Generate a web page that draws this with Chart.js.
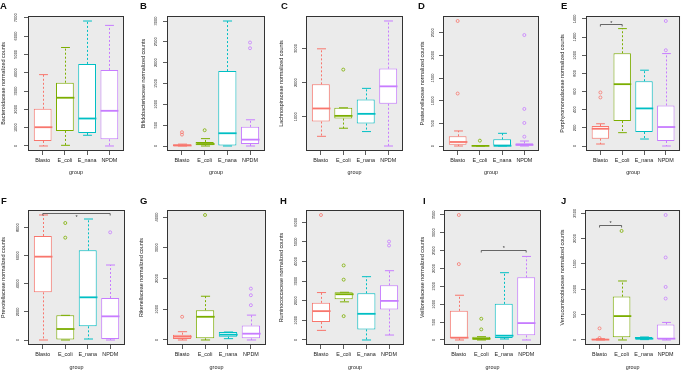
<!DOCTYPE html>
<html>
<head>
<meta charset="utf-8">
<script src="https://cdn.jsdelivr.net/npm/chart.js@4.4.1/dist/chart.umd.min.js"></script>
<style>
  body { margin: 0; background: #fff; }
  #fig { position: relative; width: 685px; height: 371px; font-family: "Liberation Sans", Arial, sans-serif; }
  #fig canvas { position: absolute; }
  .tag { position: absolute; font-weight: bold; font-size: 9.5px; line-height: 10px; color: #111; }
</style>
</head>
<body>
<div id="fig"></div>
<script>
const groups = ['Blasto', 'E_coli', 'E_nana', 'NPDM']

// one row per group: [lower whisker, Q1, median, Q3, upper whisker]
// outliers: [group number, value]
const titleA = 'Bacteroidaceae normalized counts'
const statsA = [[0, 274, 1024, 2030, 3894], [37, 823, 2633, 3455, 5375], [585, 713, 1500, 4479, 6819], [0, 366, 1920, 4150, 6581]]
const outA = []
const ticksA = [0, 1000, 2000, 3000, 4000, 5000, 6000, 7000]

const titleB = 'Bifidobacteriaceae normalized counts'
const statsB = [[0, 2, 12, 40, 45], [0, 16, 48, 97, 177], [0, 0, 306, 1798, 3000], [0, 48, 153, 460, 629]]
const outB = [[1, 330], [1, 274], [2, 379], [4, 2484], [4, 2347]]
const ticksB = [0, 500, 1000, 1500, 2000, 2500, 3000]

const titleC = 'Lachnospiraceae normalized counts'
const statsC = [[431, 863, 1245, 1951, 2990], [667, 951, 1029, 1265, 1265], [569, 804, 1088, 1510, 1833], [147, 1382, 1892, 2412, 3804]]
const outC = [[2, 2382]]
const ticksC = [1000, 2000, 3000]

const titleD = 'Pasteurellaceae normalized counts'
const statsD = [[0, 30, 89, 214, 332], [0, 0, 3, 8, 8], [0, 0, 5, 147, 280], [0, 0, 25, 59, 110]]
const outD = [[1, 2758], [1, 1158], [2, 118], [4, 2448], [4, 818], [4, 509], [4, 206]]
const ticksD = [0, 500, 1000, 1500, 2000, 2500]

const titleE = 'Porphyromonadaceae normalized counts'
const statsE = [[22, 81, 190, 220, 245], [147, 275, 681, 1022, 1293], [77, 154, 414, 714, 835], [0, 55, 209, 447, 1018]]
const outE = [[1, 590], [1, 535], [4, 1377], [4, 1055]]
const ticksE = [0, 200, 400, 600, 800, 1000, 1200, 1400]
const sigE = [1, 2, 1341, 1.5, 1370]

const titleF = 'Prevotellaceae normalized counts'
const statsF = [[0, 3395, 5935, 7407, 8902], [0, 0, 783, 1757, 1757], [71, 973, 3039, 6386, 8617], [0, 71, 1685, 2991, 5341]]
const outF = [[2, 8332], [2, 7288], [4, 7668]]
const ticksF = [0, 2000, 4000, 6000, 8000]
const sigF = [1, 4, 9021, 2.5, 8831]

const titleG = 'Rikenellaceae normalized counts'
const statsG = [[0, 32, 108, 173, 270], [0, 54, 755, 970, 1423], [43, 108, 173, 259, 259], [0, 54, 205, 474, 809]]
const outG = [[1, 755], [2, 4065], [4, 1671], [4, 1456], [4, 1132]]
const ticksG = [0, 1000, 2000, 3000, 4000]

const titleH = 'Ruminococcaceae normalized counts'
const statsH = [[490, 912, 1470, 1892, 2416], [1943, 2078, 2331, 2432, 2432], [0, 540, 1334, 2382, 3226], [253, 1554, 1993, 2787, 3530]]
const outH = [[1, 6368], [2, 3800], [2, 3074], [2, 1216], [4, 5017], [4, 4814]]
const ticksH = [0, 1000, 2000, 3000, 4000, 5000, 6000]

const titleI = 'Veillonellaceae normalized counts'
const statsI = [[0, 46, 65, 816, 1252], [0, 9, 37, 93, 93], [28, 56, 121, 1011, 1883], [0, 130, 473, 1753, 2338]]
const outI = [[1, 3497], [1, 2124], [2, 594], [2, 297]]
const ticksI = [0, 500, 1000, 1500, 2000, 2500, 3000, 3500]
const sigI = [2, 4, 2505, 3, 2588]

const titleJ = 'Verrucomicrobiaceae normalized counts'
const statsJ = [[0, 0, 7, 26, 26], [0, 52, 471, 856, 1163], [7, 7, 26, 59, 59], [0, 20, 26, 307, 346]]
const outJ = [[1, 229], [1, 39], [2, 2150], [4, 2464], [4, 1627], [4, 1046], [4, 817]]
const ticksJ = [0, 500, 1000, 1500, 2000, 2500]
const sigJ = [1, 2, 2268, 1.5, 2320]

const colors = ['#F8766D', '#7CAE00', '#00BFC4', '#C77CFF']
const family = 'Liberation Sans'
const ink = '#222'

// canvas rows: top, height, plot top, plot bottom (inside canvas), x title padding
const rows = [
    { top: 0, h: 185, pt: 16, pb: 151, gp: 8.8, tagY: 1 },
    { top: 185, h: 186, pt: 25, pb: 160, gp: 0, tagY: 196 },
]

const panels = [
    { tag: 'A', title: titleA, stats: statsA, out: outA, ticks: ticksA, ylim: [-273, 7093], sig: null, x: 0, row: 0, l: 28, r: 124, tx: 3.8, tp: 3.5, tagX: 0 },
    { tag: 'B', title: titleB, stats: statsB, out: outB, ticks: ticksB, ylim: [-120, 3120], sig: null, x: 137, row: 0, l: 30, r: 128, tx: 6.8, tp: 2.5, tagX: 140 },
    { tag: 'C', title: titleC, stats: statsC, out: outC, ticks: ticksC, ylim: [1, 3950], sig: null, x: 274, row: 0, l: 32, r: 129, tx: 7.8, tp: 1.5, tagX: 281 },
    { tag: 'D', title: titleD, stats: statsD, out: outD, ticks: ticksD, ylim: [-110, 2868], sig: null, x: 411, row: 0, l: 32, r: 128, tx: 12, tp: 1.5, tagX: 418 },
    { tag: 'E', title: titleE, stats: statsE, out: outE, ticks: ticksE, ylim: [-55, 1432], sig: sigE, x: 548, row: 0, l: 38, r: 133, tx: 14.7, tp: 2.8, tagX: 561 },
    { tag: 'F', title: titleF, stats: statsF, out: outF, ticks: ticksF, ylim: [-356, 9258], sig: sigF, x: 0, row: 1, l: 28, r: 125, tx: 3.4, tp: 1.3, tagX: 1 },
    { tag: 'G', title: titleG, stats: statsG, out: outG, ticks: ticksG, ylim: [-163, 4228], sig: null, x: 137, row: 1, l: 30, r: 129, tx: 4.7, tp: 1.5, tagX: 140 },
    { tag: 'H', title: titleH, stats: statsH, out: outH, ticks: ticksH, ylim: [-255, 6623], sig: null, x: 274, row: 1, l: 32, r: 130, tx: 8, tp: 1.8, tagX: 280 },
    { tag: 'I', title: titleI, stats: statsI, out: outI, ticks: ticksI, ylim: [-140, 3637], sig: sigI, x: 411, row: 1, l: 33, r: 130, tx: 11.2, tp: 1.8, tagX: 423 },
    { tag: 'J', title: titleJ, stats: statsJ, out: outJ, ticks: ticksJ, ylim: [-99, 2563], sig: sigJ, x: 548, row: 1, l: 37, r: 133, tx: 14.7, tp: 1.8, tagX: 561 },
]

// whiskers, caps, medians and significance bars, all placed through the chart scales
const boxPlugin = (stats, sig) => ({
    id: 'boxDetails',
    beforeDraw(chart) {
        const { ctx, chartArea: a } = chart
        ctx.save()
        ctx.fillStyle = '#EBEBEB'
        ctx.fillRect(a.left, a.top, a.right - a.left, a.bottom - a.top)
        ctx.restore()
    },
    afterDatasetsDraw(chart) {
        const { ctx } = chart
        const xs = chart.scales.x
        const ys = chart.scales.y
        const half = xs.getPixelForValue(1.4) - xs.getPixelForValue(1)
        const cap = half / 2
        stats.forEach((s, i) => {
            const x = Math.round(xs.getPixelForValue(i + 1)) + 0.5
            const [lo, q1, med, q3, hi] = s.map(v => ys.getPixelForValue(v))
            ctx.save()
            ctx.strokeStyle = colors[i]
            ctx.lineWidth = 1
            ctx.setLineDash([2, 2])
            ctx.beginPath()
            ctx.moveTo(x, q3); ctx.lineTo(x, hi)
            ctx.moveTo(x, q1); ctx.lineTo(x, lo)
            ctx.stroke()
            ctx.setLineDash([])
            ctx.beginPath()
            ctx.moveTo(x - cap, hi); ctx.lineTo(x + cap, hi)
            ctx.moveTo(x - cap, lo); ctx.lineTo(x + cap, lo)
            ctx.stroke()
            ctx.lineWidth = 1.8
            ctx.beginPath()
            ctx.moveTo(x - half, med); ctx.lineTo(x + half, med)
            ctx.stroke()
            ctx.restore()
        })
        if (sig) {
            const [a, b, yv, sx, sy] = sig
            const x1 = xs.getPixelForValue(a)
            const x2 = xs.getPixelForValue(b)
            const y = Math.round(ys.getPixelForValue(yv)) + 0.5
            ctx.save()
            ctx.strokeStyle = '#444'
            ctx.lineWidth = 0.8
            ctx.beginPath()
            ctx.moveTo(x1, y + 2); ctx.lineTo(x1, y); ctx.lineTo(x2, y); ctx.lineTo(x2, y + 2)
            ctx.stroke()
            ctx.fillStyle = '#333'
            ctx.font = '5.5px "' + family + '"'
            ctx.textAlign = 'center'
            ctx.textBaseline = 'alphabetic'
            ctx.fillText('*', xs.getPixelForValue(sx), ys.getPixelForValue(sy) + 3)
            ctx.restore()
        }
    },
    afterDraw(chart) {
        const { ctx, chartArea: a } = chart
        ctx.save()
        ctx.strokeStyle = '#333'
        ctx.lineWidth = 1
        ctx.strokeRect(Math.round(a.left) + 0.5, Math.round(a.top) + 0.5, Math.round(a.right - a.left) - 1, Math.round(a.bottom - a.top) - 1)
        ctx.restore()
    },
})

const fig = document.getElementById('fig')

panels.forEach(p => {
    const row = rows[p.row]
    const canvas = document.createElement('canvas')
    canvas.width = 137
    canvas.height = row.h
    canvas.style.left = p.x + 'px'
    canvas.style.top = row.top + 'px'
    fig.appendChild(canvas)

    const tag = document.createElement('div')
    tag.className = 'tag'
    tag.textContent = p.tag
    tag.style.left = p.tagX + 'px'
    tag.style.top = row.tagY + 'px'
    fig.appendChild(tag)

    new Chart(canvas.getContext('2d'), {
        type: 'bar',
        data: {
            datasets: [{
                type: 'bar',
                data: p.stats.map((s, i) => ({ x: i + 1, y: [s[1], s[3]] })),
                backgroundColor: '#ffffff',
                borderColor: colors,
                borderWidth: 1,
                borderSkipped: false,
                barPercentage: 0.8,
                categoryPercentage: 1,
            }, {
                type: 'scatter',
                data: p.out.map(([g, v]) => ({ x: g, y: v })),
                pointRadius: 1.5,
                pointBorderWidth: 0.8,
                pointBackgroundColor: 'rgba(0,0,0,0)',
                pointBorderColor: p.out.map(([g]) => colors[g - 1]),
            }]
        },
        options: {
            responsive: false,
            animation: false,
            events: [],
            layout: { padding: { top: row.pt, right: 137 - p.r, left: 0, bottom: 0 } },
            scales: {
                x: {
                    type: 'linear',
                    min: 0.34,
                    max: 4.66,
                    offset: false,
                    afterBuildTicks: s => { s.ticks = groups.map((g, i) => ({ value: i + 1 })) },
                    afterFit: s => { s.height = row.h - row.pb },
                    border: { display: false },
                    grid: { offset: false, drawOnChartArea: false, tickLength: 4, color: '#333', lineWidth: 0.8 },
                    ticks: {
                        autoSkip: false, minRotation: 0, maxRotation: 0, padding: 2, color: ink,
                        font: { family: family, size: 5.4 },
                        callback: v => groups[v - 1],
                    },
                    title: {
                        display: true, text: 'group', color: ink,
                        font: { family: family, size: 5.4 },
                        padding: { top: 0, bottom: row.gp },
                    }
                },
                y: {
                    min: p.ylim[0],
                    max: p.ylim[1],
                    afterBuildTicks: s => { s.ticks = p.ticks.map(v => ({ value: v })) },
                    afterFit: s => { s.width = p.l },
                    border: { display: false },
                    grid: { drawOnChartArea: false, tickLength: 4, color: '#333', lineWidth: 0.8 },
                    ticks: {
                        autoSkip: false, minRotation: 90, maxRotation: 90, crossAlign: 'center',
                        padding: p.tp, color: ink,
                        font: { family: family, size: 4 },
                        callback: v => String(v),
                    },
                    title: {
                        display: true, text: p.title, color: ink,
                        font: { family: family, size: 5.4 },
                        padding: { top: Math.max(0, p.tx - 3.24), bottom: 0 },
                    }
                }
            },
            plugins: {
                legend: { display: false },
                tooltip: { enabled: false },
            }
        },
        plugins: [boxPlugin(p.stats, p.sig)],
    })
})
</script>
</body>
</html>
